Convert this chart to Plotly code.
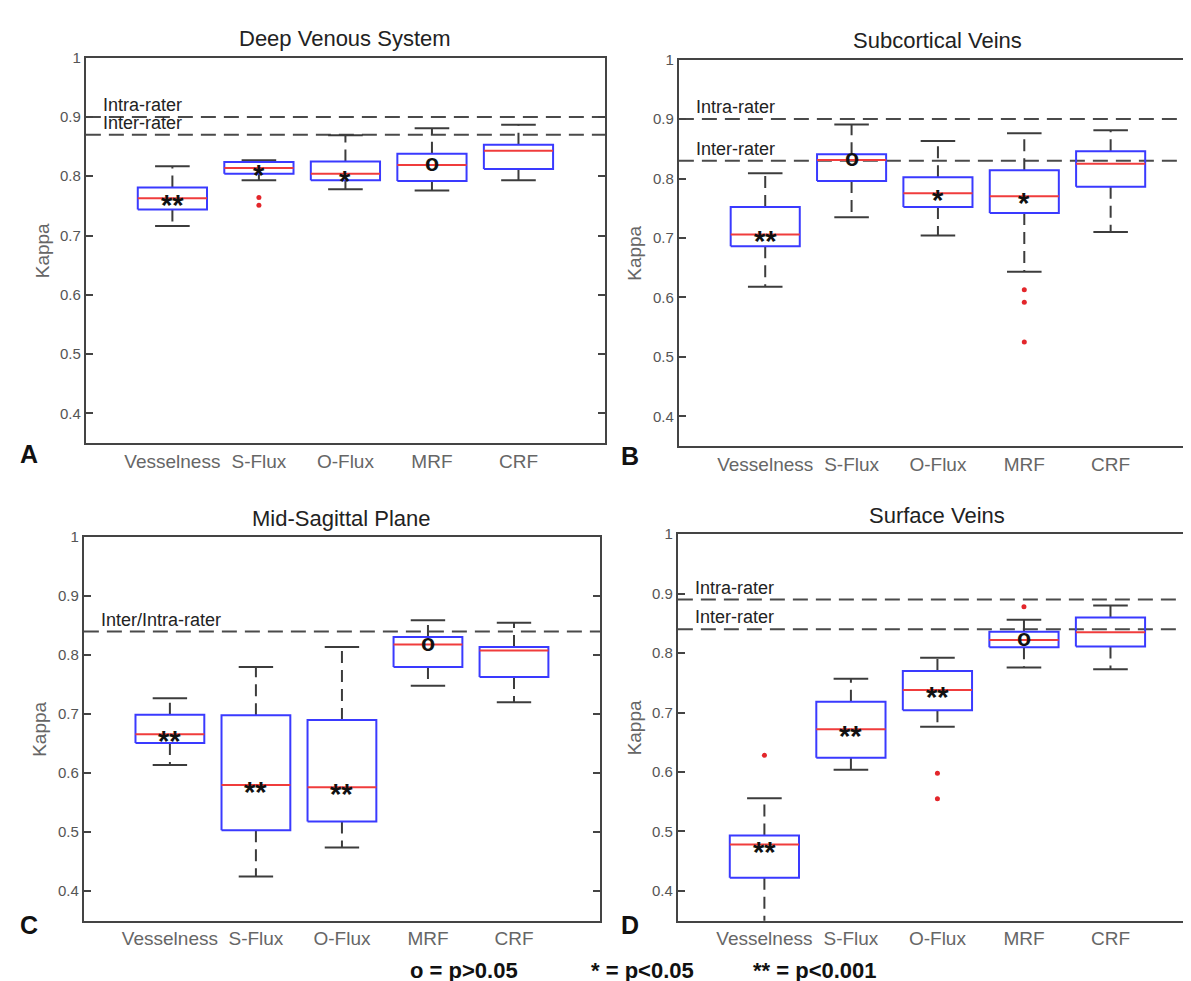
import plotly.graph_objects as go

W, H = 1191, 981

categories = ["Vesselness", "S-Flux", "O-Flux", "MRF", "CRF"]
y_tick_vals = [0.4, 0.5, 0.6, 0.7, 0.8, 0.9, 1.0]
y_tick_text = ["0.4", "0.5", "0.6", "0.7", "0.8", "0.9", "1"]

# Panel A: Deep Venous System
a_title = "Deep Venous System"
a_upper = [0.817, 0.827, 0.869, 0.881, 0.887]
a_q3 = [0.781, 0.824, 0.825, 0.838, 0.853]
a_median = [0.763, 0.814, 0.804, 0.819, 0.843]
a_q1 = [0.744, 0.804, 0.793, 0.792, 0.812]
a_lower = [0.716, 0.793, 0.778, 0.776, 0.793]
a_outliers = [[], [0.764, 0.751], [], [], []]
a_sig = ["**", "*", "*", "o", ""]
a_ref_values = [0.90, 0.87]
a_ref_labels = ["Intra-rater", "Inter-rater"]

# Panel B: Subcortical Veins
b_title = "Subcortical Veins"
b_upper = [0.809, 0.891, 0.863, 0.876, 0.881]
b_q3 = [0.752, 0.841, 0.802, 0.814, 0.846]
b_median = [0.706, 0.831, 0.775, 0.770, 0.825]
b_q1 = [0.686, 0.796, 0.752, 0.742, 0.786]
b_lower = [0.618, 0.735, 0.704, 0.643, 0.710]
b_outliers = [[], [], [], [0.613, 0.592, 0.525], []]
b_sig = ["**", "o", "*", "*", ""]
b_ref_values = [0.90, 0.83]
b_ref_labels = ["Intra-rater", "Inter-rater"]

# Panel C: Mid-Sagittal Plane
c_title = "Mid-Sagittal Plane"
c_upper = [0.727, 0.780, 0.814, 0.859, 0.855]
c_q3 = [0.699, 0.698, 0.690, 0.831, 0.814]
c_median = [0.666, 0.580, 0.576, 0.818, 0.808]
c_q1 = [0.651, 0.503, 0.518, 0.780, 0.763]
c_lower = [0.614, 0.425, 0.474, 0.748, 0.720]
c_outliers = [[], [], [], [], []]
c_sig = ["**", "**", "**", "o", ""]
c_ref_values = [0.84]
c_ref_labels = ["Inter/Intra-rater"]

# Panel D: Surface Veins
d_title = "Surface Veins"
d_upper = [0.556, 0.757, 0.792, 0.856, 0.880]
d_q3 = [0.493, 0.718, 0.770, 0.836, 0.860]
d_median = [0.478, 0.672, 0.738, 0.822, 0.835]
d_q1 = [0.422, 0.624, 0.704, 0.810, 0.811]
d_lower = [0.330, 0.604, 0.676, 0.776, 0.773]
d_outliers = [[0.628], [], [0.598, 0.555], [0.878], []]
d_sig = ["**", "**", "**", "o", ""]
d_ref_values = [0.89, 0.84]
d_ref_labels = ["Intra-rater", "Inter-rater"]

legend_items = ["o = p>0.05", "* = p<0.05", "** = p<0.001"]

# ---------------- styling / layout (pixels) ----------------
FONT = "Liberation Sans, Arial, Helvetica, sans-serif"
BOX_BLUE = "#3a3aff"
MED_RED = "#f03c3c"
WHISK = "#3c3c3c"
REF = "#4a4a4a"
OUT_RED = "#e3262b"
AX = "#444444"

HW = 0.40   # box half width (category units)
CW = 0.20   # cap half width

panels = [
    dict(letter="A", title=a_title, upper=a_upper, q3=a_q3, med=a_median, q1=a_q1, lower=a_lower,
         out=a_outliers, sig=a_sig, refs=a_ref_values, ref_labels=a_ref_labels,
         px=(78, 598), py=(41, 430), letter_pos=(21, 441), title_y=22),
    dict(letter="B", title=b_title, upper=b_upper, q3=b_q3, med=b_median, q1=b_q1, lower=b_lower,
         out=b_outliers, sig=b_sig, refs=b_ref_values, ref_labels=b_ref_labels,
         px=(672, 1191), py=(43, 433), letter_pos=(623, 443), title_y=24),
    dict(letter="C", title=c_title, upper=c_upper, q3=c_q3, med=c_median, q1=c_q1, lower=c_lower,
         out=c_outliers, sig=c_sig, refs=c_ref_values, ref_labels=c_ref_labels,
         px=(76, 593), py=(525, 912), letter_pos=(21, 916), title_y=506),
    dict(letter="D", title=d_title, upper=d_upper, q3=d_q3, med=d_median, q1=d_q1, lower=d_lower,
         out=d_outliers, sig=d_sig, refs=d_ref_values, ref_labels=d_ref_labels,
         px=(671, 1191), py=(522, 912), letter_pos=(623, 916), title_y=503),
]


def PX(x):
    return x / W


def PY(y):
    return 1 - y / H


fig = go.Figure()
annotations = []
layout_axes = {}

for k, p in enumerate(panels):
    n = "" if k == 0 else str(k + 1)
    xref, yref = "x" + n, "y" + n
    xs = list(range(1, len(categories) + 1))
    x_lo, x_hi = 0, 6

    # reference dashed lines
    for v in p["refs"]:
        fig.add_trace(go.Scatter(x=[x_lo, x_hi], y=[v, v], mode="lines", xaxis=xref, yaxis=yref,
                                 line=dict(color=REF, width=2, dash="15px,8px"),
                                 hoverinfo="skip", showlegend=False))

    # whiskers (dashed)
    wx, wy = [], []
    for i, x in enumerate(xs):
        wx += [x, x, None, x, x, None]
        wy += [p["q3"][i], p["upper"][i], None, p["q1"][i], p["lower"][i], None]
    fig.add_trace(go.Scatter(x=wx, y=wy, mode="lines", xaxis=xref, yaxis=yref,
                             line=dict(color=WHISK, width=2, dash="12px,7px"),
                             hoverinfo="skip", showlegend=False))

    # caps
    cx, cy = [], []
    for i, x in enumerate(xs):
        cx += [x - CW, x + CW, None, x - CW, x + CW, None]
        cy += [p["upper"][i], p["upper"][i], None, p["lower"][i], p["lower"][i], None]
    fig.add_trace(go.Scatter(x=cx, y=cy, mode="lines", xaxis=xref, yaxis=yref,
                             line=dict(color=WHISK, width=2),
                             hoverinfo="skip", showlegend=False))

    # boxes
    bx, by = [], []
    for i, x in enumerate(xs):
        bx += [x - HW, x + HW, x + HW, x - HW, x - HW, None]
        by += [p["q1"][i], p["q1"][i], p["q3"][i], p["q3"][i], p["q1"][i], None]
    fig.add_trace(go.Scatter(x=bx, y=by, mode="lines", xaxis=xref, yaxis=yref,
                             line=dict(color=BOX_BLUE, width=2),
                             hoverinfo="skip", showlegend=False))

    # medians
    mx, my = [], []
    for i, x in enumerate(xs):
        mx += [x - HW, x + HW, None]
        my += [p["med"][i], p["med"][i], None]
    fig.add_trace(go.Scatter(x=mx, y=my, mode="lines", xaxis=xref, yaxis=yref,
                             line=dict(color=MED_RED, width=2),
                             hoverinfo="skip", showlegend=False))

    # outliers
    ox, oy = [], []
    for i, x in enumerate(xs):
        for v in p["out"][i]:
            ox.append(x)
            oy.append(v)
    if ox:
        fig.add_trace(go.Scatter(x=ox, y=oy, mode="markers", xaxis=xref, yaxis=yref,
                                 marker=dict(color=OUT_RED, size=5),
                                 hoverinfo="skip", showlegend=False))

    # significance markers
    for i, x in enumerate(xs):
        s = p["sig"][i]
        if not s:
            continue
        if s == "o":
            annotations.append(dict(x=x, y=p["med"][i], xref=xref, yref=yref, text="<b>o</b>",
                                    showarrow=False, font=dict(family=FONT, size=23, color="#111"),
                                    yshift=2))
        else:
            annotations.append(dict(x=x, y=p["med"][i], xref=xref, yref=yref, text="<b>%s</b>" % s,
                                    showarrow=False, font=dict(family=FONT, size=29, color="#111"),
                                    yshift=-7))

    # reference line labels
    for v, lab in zip(p["refs"], p["ref_labels"]):
        annotations.append(dict(x=0.175, y=v, xref=xref, yref=yref, text=lab, xanchor="left",
                                yanchor="bottom", showarrow=False, yshift=0,
                                font=dict(family=FONT, size=18, color="#222")))

    # title
    annotations.append(dict(x=PX((p["px"][0] + p["px"][1]) / 2), y=PY(p["title_y"]), xref="paper",
                            yref="paper", text=p["title"], showarrow=False, xanchor="center",
                            yanchor="middle", font=dict(family=FONT, size=22, color="#222")))
    # panel letter
    annotations.append(dict(x=PX(p["letter_pos"][0]), y=PY(p["letter_pos"][1]), xref="paper",
                            yref="paper", text="<b>%s</b>" % p["letter"], showarrow=False,
                            xanchor="center", yanchor="middle",
                            font=dict(family=FONT, size=25, color="#111")))
    # y title
    annotations.append(dict(x=PX(p["px"][0] - 44), y=PY((p["py"][0] + p["py"][1]) / 2),
                            xref="paper", yref="paper", text="Kappa", textangle=-90,
                            showarrow=False, xanchor="center", yanchor="middle",
                            font=dict(family=FONT, size=19, color="#666")))

    layout_axes["xaxis" + n] = dict(
        domain=[PX(p["px"][0]), PX(p["px"][1])], anchor=yref, range=[x_lo, x_hi],
        tickvals=xs, ticktext=categories, ticks="", showgrid=False, zeroline=False,
        showline=True, linecolor=AX, linewidth=2, mirror=True,
        tickfont=dict(family=FONT, size=19, color="#666"))
    layout_axes["yaxis" + n] = dict(
        domain=[PY(p["py"][1]), PY(p["py"][0])], anchor=xref, range=[0.35, 1.0],
        tickvals=y_tick_vals, ticktext=y_tick_text, ticks="inside", ticklen=7, tickwidth=2,
        tickcolor=AX, showgrid=False, zeroline=False, showline=True, linecolor=AX,
        linewidth=2, mirror="ticks", tickfont=dict(family=FONT, size=15, color="#555"))

# legend text at bottom
legend_x = [457, 636, 808]
for t, x in zip(legend_items, legend_x):
    annotations.append(dict(x=PX(x), y=PY(962), xref="paper", yref="paper", text="<b>%s</b>" % t,
                            showarrow=False, xanchor="center", yanchor="middle",
                            font=dict(family=FONT, size=22, color="#111")))

fig.update_layout(
    width=W, height=H, margin=dict(l=0, r=0, t=0, b=0),
    paper_bgcolor="white", plot_bgcolor="white", showlegend=False,
    annotations=annotations, **layout_axes)

fig.write_html("out.html")
